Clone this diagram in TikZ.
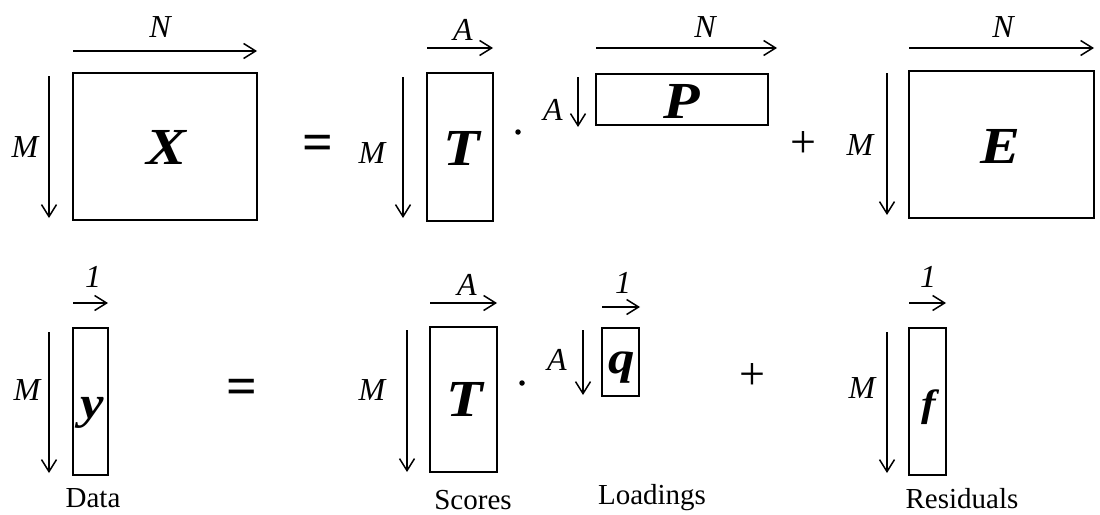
\documentclass[tikz,border=0pt]{standalone}
\usepackage{fontspec}
\setmainfont{Liberation Serif}
\newfontfamily\widebi[FakeStretch=1.15,BoldItalicFont={Liberation Serif Bold Italic}]{Liberation Serif}
\usetikzlibrary{arrows.meta}
\begin{document}
\begin{tikzpicture}[x=1pt,y=-1pt,
  mat/.style={draw, line width=1.9pt, inner sep=0pt},
  letter/.style={anchor=base, inner sep=0pt, font=\fontsize{52}{54}\widebi\bfseries\itshape},
  smallletter/.style={letter, font=\fontsize{46}{48}\widebi\bfseries\itshape},
  dim/.style={line width=1.5pt, -{Straight Barb[length=12pt,width=15pt,line width=1.5pt]}},
  lab/.style={font=\fontsize{32}{34}\selectfont\itshape, inner sep=0pt},
  capt/.style={anchor=base, font=\fontsize{29}{31}\selectfont, inner sep=0pt},
  eqsign/.style={font=\fontsize{54}{56}\selectfont\bfseries, inner sep=0pt},
  plussign/.style={font=\fontsize{46}{48}\selectfont, inner sep=0pt},
  prod/.style={circle, fill, inner sep=0pt, minimum size=5.5pt}]
\useasboundingbox (0,0) rectangle (1100,514);
% ---------- top row ----------
\node[mat, minimum width=184pt, minimum height=147pt] (X) at (165,146.5) {};
\node[letter] (Xl) at (166,164) {X};
\draw[dim] (73,51) -- (257,51);
\node[lab] (XN) at (160,27) {N};
\draw[dim] (49,76) -- (49,218);
\node[lab] (XM) at (25,147) {M};

\node[eqsign] (eq1) at (318,148) {=};

\node[mat, minimum width=66pt, minimum height=148pt] (T) at (460,147) {};
\node[letter] (Tl) at (462,165) {T};
\draw[dim] (427,48) -- (493,48);
\node[lab] (TA) at (463,30) {A};
\draw[dim] (403,77) -- (403,218);
\node[lab] (TM) at (372,153) {M};

\node[prod] (dot1) at (518,132) {};

\node[mat, minimum width=172pt, minimum height=51pt] (P) at (682,99.5) {};
\node[letter] (Pl) at (682,118) {P};
\draw[dim] (596,48) -- (777,48);
\node[lab] (PN) at (705,27) {N};
\draw[dim] (578,77) -- (578,127);
\node[lab] (PA) at (553,110) {A};

\node[plussign] (plus1) at (803,145) {+};

\node[mat, minimum width=185pt, minimum height=147pt] (E) at (1001.5,144.5) {};
\node[letter] (El) at (1000,163) {E};
\draw[dim] (909,48) -- (1094,48);
\node[lab] (EN) at (1003,27) {N};
\draw[dim] (887,73) -- (887,215);
\node[lab] (EM) at (860,145) {M};

% ---------- bottom row ----------
\node[mat, minimum width=35pt, minimum height=147pt] (y) at (90.5,401.5) {};
\node[smallletter] (yl) at (92,418) {y};
\draw[dim] (73,303) -- (108,303);
\node[lab] (y1) at (93,277) {1};
\draw[dim] (49,332) -- (49,473);
\node[lab] (yM) at (27,390) {M};
\node[capt] (data) at (93,507) {Data};

\node[eqsign] (eq2) at (242,392) {=};

\node[mat, minimum width=67pt, minimum height=145pt] (T2) at (463.5,399.5) {};
\node[letter] (T2l) at (465,416) {T};
\draw[dim] (430,303) -- (497,303);
\node[lab] (T2A) at (467,285) {A};
\draw[dim] (407,330) -- (407,472);
\node[lab] (T2M) at (372,390) {M};
\node[capt] (scores) at (473,509) {Scores};

\node[prod] (dot2) at (522,383) {};

\node[mat, minimum width=37pt, minimum height=68pt] (q) at (620.5,362) {};
\node[smallletter] (ql) at (622,373) {q};
\draw[dim] (602,307) -- (640,307);
\node[lab] (q1) at (623,283) {1};
\draw[dim] (583,330) -- (583,395);
\node[lab] (qA) at (557,360) {A};
\node[capt] (loadings) at (652,504) {Loadings};

\node[plussign] (plus2) at (752,377) {+};

\node[mat, minimum width=37pt, minimum height=147pt] (f) at (927.5,401.5) {};
\node[smallletter, font=\fontsize{38}{40}\widebi\bfseries\itshape] (fl) at (929,416) {f};
\draw[dim] (909,303) -- (946,303);
\node[lab] (f1) at (928,277) {1};
\draw[dim] (887,332) -- (887,473);
\node[lab] (fM) at (862,388) {M};
\node[capt] (resid) at (962,508) {Residuals};
\end{tikzpicture}
\end{document}
